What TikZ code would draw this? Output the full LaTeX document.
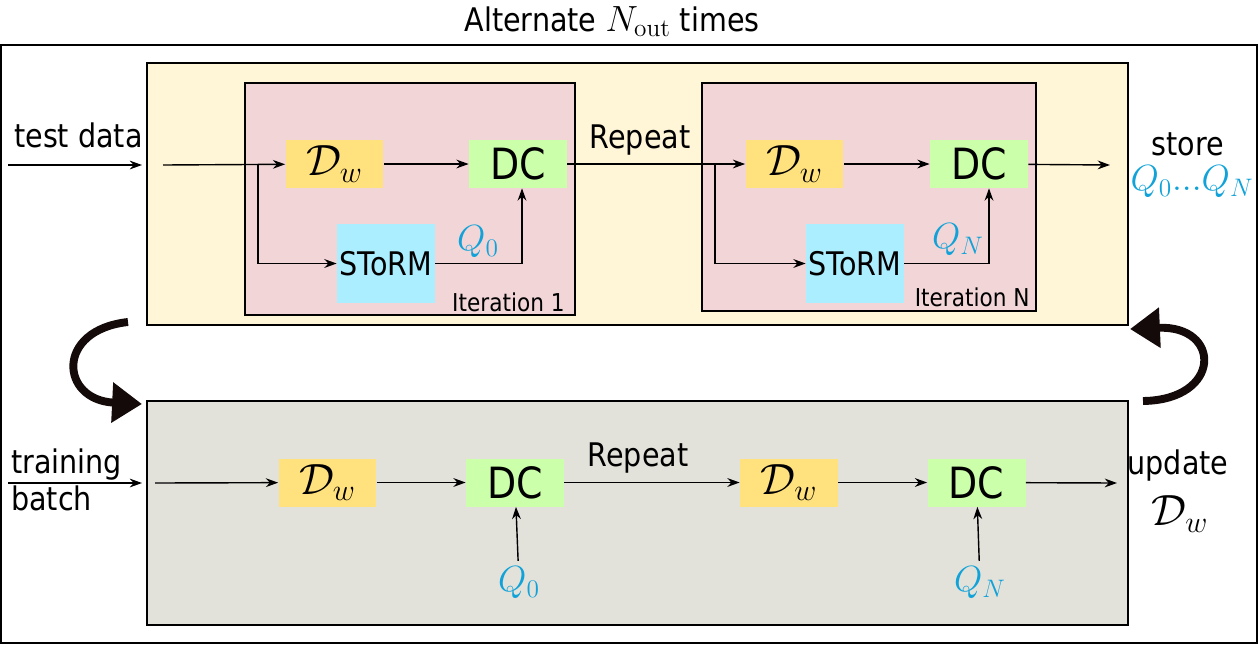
\documentclass[tikz,border=0pt]{standalone}
\usepackage[no-math]{fontspec}
\setmainfont{DejaVu Sans}[FakeStretch=0.88]
\usetikzlibrary{arrows.meta}

\definecolor{testbg}{HTML}{FFF5D7}
\definecolor{iterpink}{HTML}{F2D6D7}
\definecolor{trainbg}{HTML}{E3E2DA}
\definecolor{dwyellow}{HTML}{FFE17E}
\definecolor{dcgreen}{HTML}{CCFFAA}
\definecolor{stormcyan}{HTML}{AAEEFF}
\definecolor{qblue}{HTML}{10A2D8}
\definecolor{loopblack}{HTML}{140A0A}

\begin{document}
\begin{tikzpicture}[x=0.02cm, y=-0.02cm,
    flow/.style={-{Stealth[length=7pt,width=5pt]}, line width=0.8pt},
    swap/.style={-{Triangle[length=17pt,width=22pt]}, line width=4.5pt, draw=loopblack},
    blockbox/.style={minimum width=1.96cm, minimum height=0.96cm, inner sep=0pt},
    dwbox/.style={blockbox, fill=dwyellow, font=\fontsize{26}{28}\selectfont},
    dcbox/.style={blockbox, fill=dcgreen, font=\fontsize{24.5}{26}\selectfont},
    stormbox/.style={blockbox, minimum height=1.58cm, fill=stormcyan, font=\fontsize{18.5}{20}\selectfont},
    txt/.style={font=\fontsize{18.5}{21}\selectfont},
    itertxt/.style={font=\fontsize{14}{16}\selectfont, anchor=base east, inner sep=0pt},
    qtxt/.style={text=qblue, font=\fontsize{21}{24}\selectfont},
  ]
    \useasboundingbox (0,0) rectangle (1258,650);

    % --- Frames ---
    \draw[line width=0.9pt] (1,45) rectangle (1257,643);
    \draw[line width=0.9pt, fill=testbg] (147,63) rectangle (1128,325);
    \draw[line width=0.9pt, fill=iterpink] (245,83) rectangle (575,315);
    \draw[line width=0.9pt, fill=iterpink] (702,83) rectangle (1036,311);
    \draw[line width=0.9pt, fill=trainbg] (147,401) rectangle (1128,625);

    % --- Coordinates ---
    \coordinate (inTa) at (8,165);
    \coordinate (inTb) at (142,165);
    \coordinate (startT) at (163,165);
    \coordinate (brA) at (258,165);
    \coordinate (brB) at (715,165);
    \coordinate (outT) at (1110,165);
    \coordinate (inBa) at (8,483);
    \coordinate (inBb) at (142,483);
    \coordinate (startB) at (155,483);
    \coordinate (outB) at (1117,483);

    % --- Test blocks ---
    \node[dwbox] (dwA) at (334.5,164) {$\mathcal{D}_w$};
    \node[dcbox] (dcA) at (518,164) {DC};
    \node[stormbox] (stormA) at (386,263.5) {SToRM};
    \node[dwbox] (dwB) at (794.5,164) {$\mathcal{D}_w$};
    \node[dcbox] (dcB) at (979,164) {DC};
    \node[stormbox] (stormB) at (855,263.5) {SToRM};

    % --- Training blocks ---
    \node[dwbox] (dwC) at (327.5,482.5) {$\mathcal{D}_w$};
    \node[dcbox] (dcC) at (515,482.5) {DC};
    \node[dwbox] (dwD) at (789,482.5) {$\mathcal{D}_w$};
    \node[dcbox] (dcD) at (976.5,482.5) {DC};

    % --- Labels ---
    \node[txt, anchor=base, inner sep=0pt] (title) at (612,31) {Alternate {\fontsize{22}{24}\selectfont$N_{\mathrm{out}}$} times};
    \node[txt, anchor=base west] (testlbl) at (8,147) {test data};
    \node[txt, anchor=base west] (trainlbl) at (5,473) {training};
    \node[txt, anchor=base west] (batchlbl) at (5,510) {batch};
    \node[txt, anchor=base] (repT) at (640,148) {Repeat};
    \node[txt, anchor=base] (repB) at (638,466) {Repeat};
    \node[txt, anchor=base] (storelbl) at (1188,155) {store};
    \node[qtxt] (qall) at (1192,182) {$Q_0{.}{.}{.}Q_N$};
    \node[txt, anchor=base] (updlbl) at (1178,474) {update};
    \node[font=\fontsize{24}{26}\selectfont, inner sep=0pt] (dwupd) at (1180,514) {$\mathcal{D}_w$};
    \node[qtxt] (qA) at (478,242) {$Q_0$};
    \node[qtxt] (qB) at (958,240) {$Q_N$};
    \node[qtxt] (qC) at (519,583) {$Q_0$};
    \node[qtxt] (qD) at (980,583) {$Q_N$};
    \node[itertxt] (itA) at (565,311) {Iteration 1};
    \node[itertxt] (itB) at (1030,306) {Iteration N};

    % --- Test flow ---
    \draw[flow] (inTa) -- (inTb);
    \draw[flow] (startT) -- (dwA);
    \draw[flow] (dwA) -- (dcA);
    \draw[flow] (brA) |- (stormA);
    \draw[flow] (stormA) -| ([xshift=0.08cm]dcA.south);
    \draw[flow] (dcA) -- (dwB);
    \draw[flow] (dwB) -- (dcB);
    \draw[flow] (brB) |- (stormB);
    \draw[flow] (stormB) -| ([xshift=0.2cm]dcB.south);
    \draw[flow] (dcB) -- (outT);

    % --- Training flow ---
    \draw[flow] (inBa) -- (inBb);
    \draw[flow] (startB) -- (dwC);
    \draw[flow] (dwC) -- (dcC);
    \draw[flow] (dcC) -- (dwD);
    \draw[flow] (dwD) -- (dcD);
    \draw[flow] (dcD) -- (outB);
    \draw[flow] (qC) -- (dcC);
    \draw[flow] (qD) -- (dcD);

    % --- Alternation arrows ---
    \draw[swap] (128,322) .. controls (55,330) and (60,400) .. (142,404);
    \draw[swap] (1143,401) .. controls (1222,400) and (1222,325) .. (1130,329);

\end{tikzpicture}
\end{document}
